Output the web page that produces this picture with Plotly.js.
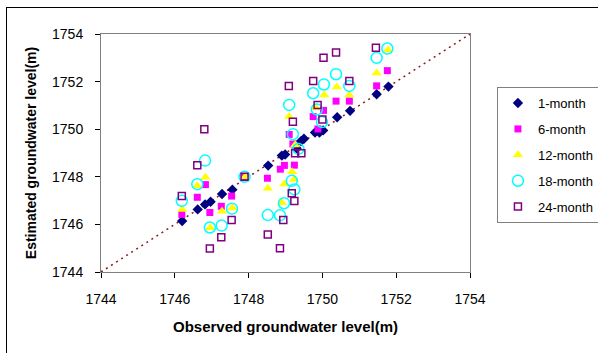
<!DOCTYPE html>
<html>
<head>
<meta charset="utf-8">
<script src="https://cdn.plot.ly/plotly-3.0.1.min.js"></script>
<style>
html,body{margin:0;padding:0;background:#fff;overflow:hidden;}
#frame{position:absolute;left:6px;top:7px;width:600px;height:360px;border-top:1px solid #000;border-left:1px solid #000;pointer-events:none;}
#chart{position:absolute;left:0;top:0;width:598px;height:353px;}
</style>
</head>
<body>
<div id="chart"></div>
<div id="frame"></div>
<script>
// Observed (x) vs estimated (y) groundwater levels
const obs1  = [1746.20,1746.62,1746.82,1746.97,1747.28,1747.56,1748.53,1748.90,1748.99,1749.30,1749.42,1749.50,1749.80,1749.92,1750.02,1750.40,1750.75,1751.47,1751.79];
const est1  = [1746.14,1746.63,1746.84,1746.95,1747.28,1747.46,1748.47,1748.89,1748.94,1749.20,1749.50,1749.60,1749.86,1749.86,1749.95,1750.50,1750.77,1751.47,1751.79];

const obs6  = [1746.19,1746.61,1746.83,1746.95,1747.26,1747.54,1747.90,1748.51,1748.86,1748.97,1749.24,1749.10,1749.20,1749.75,1750.03,1749.88,1750.37,1750.73,1751.47,1751.76];
const est6  = [1746.42,1747.14,1747.67,1746.50,1746.76,1747.19,1748.00,1747.94,1748.32,1748.48,1748.49,1749.78,1749.38,1750.53,1750.79,1750.01,1751.18,1751.18,1751.82,1752.46];

const obs12 = [1746.20,1746.61,1746.83,1746.96,1747.28,1747.56,1747.91,1748.52,1748.97,1749.18,1749.23,1748.90,1749.10,1749.26,1749.82,1750.05,1750.39,1750.73,1751.47,1751.78];
const est12 = [1746.63,1747.62,1747.98,1745.86,1746.55,1746.69,1748.00,1747.52,1747.70,1748.21,1747.89,1746.91,1750.53,1749.34,1750.90,1751.44,1751.77,1751.44,1752.36,1753.33];

const obs18 = [1746.19,1746.61,1746.82,1746.95,1747.27,1747.55,1747.89,1748.52,1748.85,1748.96,1749.17,1749.24,1749.35,1749.20,1749.10,1749.85,1749.99,1749.75,1750.04,1750.37,1750.73,1751.47,1751.76];
const est18 = [1746.99,1747.69,1748.68,1745.87,1745.95,1746.66,1748.00,1746.39,1746.38,1746.89,1747.83,1747.47,1749.17,1749.79,1751.02,1750.83,1750.30,1751.51,1751.88,1752.31,1751.82,1753.00,1753.39];

const obs24 = [1746.19,1746.61,1746.80,1746.95,1747.26,1747.54,1747.89,1748.52,1748.85,1748.94,1749.17,1749.24,1749.26,1749.43,1749.09,1749.20,1749.75,1749.87,1750.00,1750.03,1750.37,1750.73,1751.45];
const est24 = [1747.19,1748.49,1750.00,1744.99,1745.46,1746.18,1748.00,1745.58,1745.00,1746.18,1747.31,1746.98,1748.99,1748.99,1751.82,1750.31,1752.03,1751.02,1750.41,1753.00,1753.22,1752.03,1753.42];

const lineX = [1744, 1754];
const lineY = [1744, 1754];

const seriesNames = ['1-month','6-month','12-month','18-month','24-month'];
const tickVals = [1744,1746,1748,1750,1752,1754];

const traces = [
  {x: lineX, y: lineY, mode: 'lines+markers', showlegend: false, hoverinfo: 'skip',
   line: {color: '#8B1A1A', width: 1.5, dash: '2px,4px'},
   marker: {color: '#8B1A1A', size: 3}},
  {x: obs1, y: est1, name: seriesNames[0], legendgroup: 'a', mode: 'markers',
   marker: {symbol: 'diamond', size: 8, color: '#000080'}},
  {x: obs6, y: est6, name: seriesNames[1], legendgroup: 'b', mode: 'markers',
   marker: {symbol: 'square', size: 7, color: '#FF00FF'}},
  {x: obs12, y: est12, name: seriesNames[2], legendgroup: 'c', mode: 'markers',
   marker: {symbol: 'triangle-up', size: 9, color: '#FFFF00'}},
  {x: obs18, y: est18, name: seriesNames[3], legendgroup: 'd', mode: 'markers',
   marker: {symbol: 'circle-open', size: 11, color: '#00FFFF', line: {width: 1.5}}},
  {x: obs24, y: est24, name: seriesNames[4], legendgroup: 'e', mode: 'markers',
   marker: {symbol: 'square-open', size: 7, color: '#800080', line: {width: 1.5}}}
];

const axisCommon = {
  range: [1744, 1754], tickvals: tickVals, ticks: 'outside', ticklen: 5, tickcolor: '#000', tickwidth: 1,
  showgrid: false, zeroline: false, showline: true, linecolor: '#808080', linewidth: 1, mirror: true,
  tickfont: {family: 'Liberation Sans, Arial, sans-serif', size: 14, color: '#000'},
  ticklabelstandoff: 9
};

const layout = {
  width: 598, height: 353,
  margin: {l: 101, r: 128, t: 34, b: 81, autoexpand: false},
  paper_bgcolor: '#fff', plot_bgcolor: '#fff',
  showlegend: true,
  xaxis: Object.assign({}, axisCommon, {
    title: {text: 'Observed groundwater level(m)', standoff: 15,
            font: {family: 'Liberation Sans, Arial, sans-serif', size: 15, color: '#000', weight: 'bold'}}
  }),
  yaxis: Object.assign({}, axisCommon, {
    title: {text: 'Estimated groundwater level(m)', standoff: 12,
            font: {family: 'Liberation Sans, Arial, sans-serif', size: 14, color: '#000', weight: 'bold'}}
  }),
  legend: {
    x: 1.073, y: 0.777, xanchor: 'left', yanchor: 'top',
    bordercolor: '#808080', borderwidth: 1, bgcolor: '#fff',
    font: {family: 'Liberation Sans, Arial, sans-serif', size: 13, color: '#000'},
    tracegroupgap: 6, itemwidth: 30
  }
};

Plotly.newPlot('chart', traces, layout, {displayModeBar: false, staticPlot: true});
</script>
</body>
</html>
